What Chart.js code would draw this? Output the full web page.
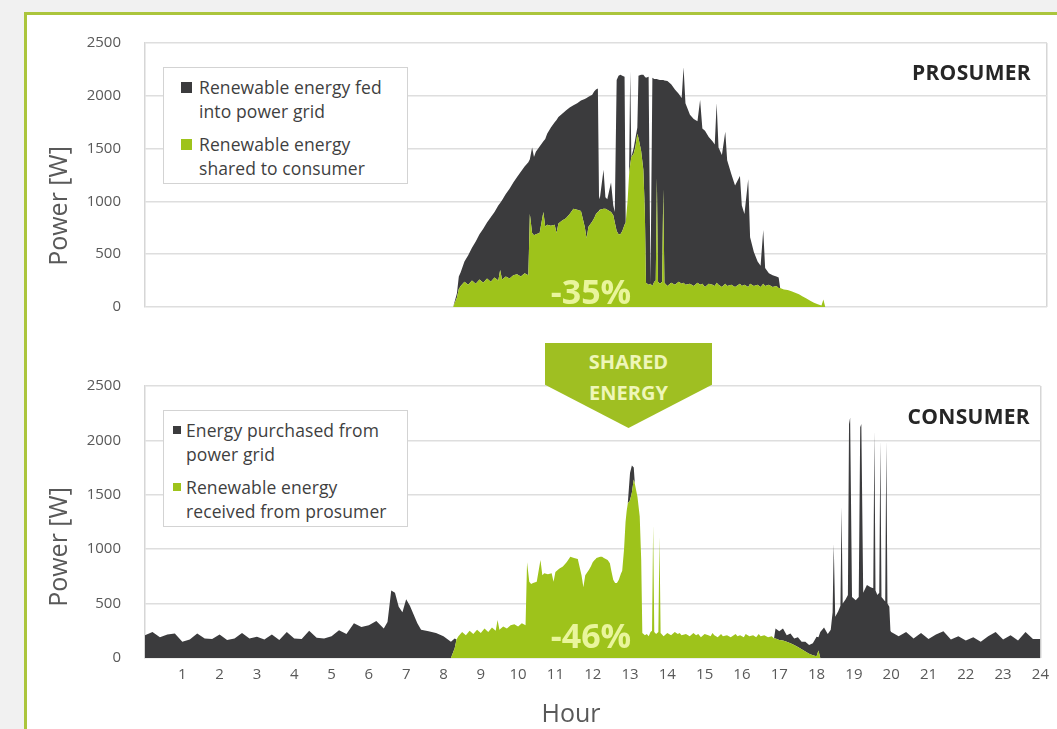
<!DOCTYPE html>
<html>
<head>
<meta charset="utf-8">
<title>Prosumer / consumer power profile</title>
<script src="https://cdn.jsdelivr.net/npm/chart.js@4.4.1/dist/chart.umd.min.js"></script>
<style>
  html, body { margin: 0; padding: 0; }
  body { position: relative; width: 1057px; height: 729px; overflow: hidden; background: #f1f1f1; font-family: "Open Sans", sans-serif; }
  #frame { position: absolute; left: 24px; top: 12px; width: 1100px; height: 800px; box-sizing: border-box; border: 3px solid #abc53c; background: #fff; }
  canvas { position: absolute; left: 0; }
  #prosumerChart { top: 0; }
  #consumerChart { top: 340px; }
  .axis-title { position: absolute; transform: translate(-50%, -50%); font-size: 25px; color: #595959; white-space: nowrap; }
  .ytitle { transform: translate(-50%, -50%) rotate(-90deg); }
  .legend { position: absolute; width: 245px; height: 117px; box-sizing: border-box; padding-top: 8px; border: 1px solid #d3d3d3; background: #fff; font-size: 17.5px; color: #3f3f3f; letter-spacing: 0.1px; }
  .legend .item { position: relative; line-height: 23.5px; white-space: pre-line; margin-bottom: 10px; }
  .legend .swatch { position: absolute; }
  .role { position: absolute; transform: translateY(-50%); font-size: 21px; font-weight: 700; color: #262626; letter-spacing: 0.3px; }
  .saving { position: absolute; transform: translate(-50%, -50%); font-size: 34px; font-weight: 700; color: #e9f59c; }
  #sharedArrow { position: absolute; left: 545px; top: 343px; width: 167px; height: 85px; box-sizing: border-box; padding-top: 3px;
    background: #9fbf22; clip-path: polygon(0 0, 100% 0, 100% 49%, 50% 100%, 0 49%);
    color: #eef6b8; font-size: 20px; font-weight: 700; line-height: 31px; text-align: center; }
</style>
</head>
<body>
<div id="frame"></div>
<canvas id="prosumerChart" width="1057" height="340"></canvas>
<canvas id="consumerChart" width="1057" height="389"></canvas>

<div class="axis-title ytitle" style="left:57px; top:206px">Power [W]</div>
<div class="axis-title ytitle" style="left:57px; top:547px">Power [W]</div>
<div class="axis-title" style="left:571px; top:712px">Hour</div>

<div class="legend" id="prosumerLegend" style="left:163px; top:67px"></div>
<div class="legend" id="consumerLegend" style="left:163px; top:410px"></div>

<div class="role" style="right:26px; top:72px">PROSUMER</div>
<div class="role" style="right:27px; top:416px">CONSUMER</div>
<div class="saving" style="left:591px; top:291px">-35%</div>
<div class="saving" style="left:591px; top:635px">-46%</div>
<div id="sharedArrow">SHARED<br>ENERGY</div>

<script>
  // Time of day (h), denser where the profile has spikes
  const hours = [
    0, 0.2, 0.4, 0.6, 0.8, 1.0, 1.2, 1.4, 1.6, 1.8,
    2.0, 2.2, 2.4, 2.6, 2.8, 3.0, 3.2, 3.4, 3.6, 3.8,
    4.0, 4.2, 4.4, 4.6, 4.8, 5.0, 5.2, 5.4, 5.6, 5.8,
    6.0, 6.2, 6.4, 6.5, 6.6, 6.7, 6.8, 6.9, 7.0, 7.1,
    7.2, 7.3, 7.4, 7.6, 7.8, 8.0, 8.2,
    8.3, 8.35, 8.4, 8.5, 8.6, 8.7, 8.8, 8.9, 9.0, 9.1,
    9.2, 9.3, 9.4, 9.45, 9.5, 9.6, 9.7, 9.8, 9.9, 10.0,
    10.1, 10.2,
    10.24, 10.3, 10.35, 10.4, 10.5, 10.6, 10.65, 10.7, 10.8, 10.9,
    10.95, 11.0, 11.1, 11.2, 11.3, 11.4, 11.5, 11.6, 11.7, 11.75,
    11.8, 11.9, 11.95, 12.0, 12.05,
    12.08, 12.1, 12.2, 12.25, 12.3, 12.4, 12.46, 12.5, 12.55, 12.6,
    12.65, 12.7, 12.76, 12.79, 12.84, 12.88, 12.91, 12.94, 13.0, 13.05,
    13.1,
    13.13, 13.2, 13.26, 13.3, 13.33, 13.4, 13.45, 13.5, 13.55, 13.59,
    13.62, 13.65, 13.7, 13.76, 13.79, 13.82, 13.9, 14.0,
    14.1, 14.2, 14.28, 14.33, 14.38, 14.5, 14.6, 14.7, 14.77, 14.83,
    14.9, 15.0, 15.1, 15.16, 15.21, 15.26, 15.35, 15.44, 15.49, 15.6,
    15.7, 15.83, 15.88, 15.95, 16.05, 16.1, 16.2, 16.3, 16.38, 16.45,
    16.5, 16.6, 16.7, 16.8, 16.86,
    16.9, 17.0, 17.1, 17.2, 17.3, 17.4, 17.5, 17.6, 17.7, 17.8,
    17.9, 18.0, 18.05, 18.1, 18.2,
    18.3, 18.38, 18.43, 18.46, 18.5, 18.58, 18.64, 18.67, 18.7, 18.78,
    18.84, 18.87, 18.9, 18.95, 19.05, 19.13, 19.17, 19.2, 19.25, 19.35,
    19.45, 19.52, 19.55, 19.58, 19.63, 19.68, 19.71, 19.74, 19.79, 19.84,
    19.87, 19.9, 19.95, 19.98,
    20.0, 20.2, 20.4, 20.6, 20.8, 21.0, 21.2, 21.4, 21.6, 21.8,
    22.0, 22.2, 22.4, 22.6, 22.8, 23.0, 23.2, 23.4, 23.6, 23.8,
    24.0
  ];

  // Prosumer: PV power fed into the grid (W)
  const fedToGrid = [
    0, 0, 0, 0, 0, 0, 0, 0, 0, 0,
    0, 0, 0, 0, 0, 0, 0, 0, 0, 0,
    0, 0, 0, 0, 0, 0, 0, 0, 0, 0,
    0, 0, 0, 0, 0, 0, 0, 0, 0, 0,
    0, 0, 0, 0, 0, 0, 0,
    40, 120, 130, 190, 280, 310, 400, 430, 510, 530,
    610, 620, 710, 635, 750, 780, 850, 880, 920, 990,
    1010, 1070,
    520, 810, 740, 780, 820, 670, 830, 860, 930, 970,
    1070, 1010, 1010, 1020, 1010, 980, 1010, 1045, 1210, 1330,
    1230, 1200, 1200, 1180, 1170,
    140, 100, 370, 110, 100, 280, 90, 100, 1430, 1500,
    1510, 1470, 1400, 0, 0, 0, 880, 0, 50, 80,
    60,
    590, 720, 900, 1280, 1940, 1970, 10, 1970, 1920, 1910,
    940, 1915, 1930, 1910, 1035, 1915, 1940, 1880,
    1850, 1780, 1760, 2040, 1720, 1600, 1580, 1530, 1750, 1470,
    1480, 1390, 1360, 1340, 1700, 1300, 1250, 1440, 1190, 1050,
    960, 1020, 760, 670, 1020, 440, 320, 220, 200, 510,
    170, 110, 110, 90, 100,
    0, 0, 0, 0, 0, 0, 0, 0, 0, 0,
    0, 0, 0, 0, 0,
    0, 0, 0, 0, 0, 0, 0, 0, 0, 0,
    0, 0, 0, 0, 0, 0, 0, 0, 0, 0,
    0, 0, 0, 0, 0, 0, 0, 0, 0, 0,
    0, 0, 0, 0,
    0, 0, 0, 0, 0, 0, 0, 0, 0, 0,
    0, 0, 0, 0, 0, 0, 0, 0, 0, 0,
    0
  ];

  // Renewable power shared prosumer -> consumer (W), same curve in both panels
  const sharedEnergy = [
    0, 0, 0, 0, 0, 0, 0, 0, 0, 0,
    0, 0, 0, 0, 0, 0, 0, 0, 0, 0,
    0, 0, 0, 0, 0, 0, 0, 0, 0, 0,
    0, 0, 0, 0, 0, 0, 0, 0, 0, 0,
    0, 0, 0, 0, 0, 0, 0,
    90, 170, 200, 240, 210, 250, 220, 260, 230, 270,
    240, 280, 250, 350, 260, 290, 270, 300, 310, 290,
    320, 300,
    880, 700, 680, 690, 700, 900, 760, 780, 770, 780,
    700, 790, 820, 840, 880, 930, 920, 910, 760, 650,
    760, 810, 840, 880, 900,
    910, 920, 930, 930, 920, 900, 870, 800, 720, 690,
    690, 720, 780, 800, 1000, 1250, 1350, 1420, 1450, 1520,
    1640,
    1600, 1480, 1300, 900, 230, 210, 220, 200, 240, 250,
    1220, 240, 220, 240, 1115, 230, 200, 230,
    210, 240, 220, 230, 210, 220, 200, 230, 210, 220,
    190, 220, 210, 200, 230, 210, 190, 220, 200, 210,
    190, 220, 200, 210, 190, 220, 200, 210, 190, 220,
    200, 210, 190, 200, 180,
    180, 165, 160, 150, 135, 120, 100, 80, 60, 40,
    25, 15, 70, 0, 0,
    0, 0, 0, 0, 0, 0, 0, 0, 0, 0,
    0, 0, 0, 0, 0, 0, 0, 0, 0, 0,
    0, 0, 0, 0, 0, 0, 0, 0, 0, 0,
    0, 0, 0, 0,
    0, 0, 0, 0, 0, 0, 0, 0, 0, 0,
    0, 0, 0, 0, 0, 0, 0, 0, 0, 0,
    0
  ];

  // Consumer: power bought from the grid (W)
  const purchasedFromGrid = [
    210, 240, 190, 215, 225, 150, 170, 225, 180, 175,
    215, 165, 180, 230, 180, 195, 170, 215, 165, 240,
    180, 175, 250, 185, 180, 200, 255, 220, 320, 285,
    300, 340, 270, 330, 620, 600, 470, 420, 540, 480,
    400, 320, 260, 245, 230, 200, 150,
    90, 0, 0, 0, 0, 0, 0, 0, 0, 0,
    0, 0, 0, 0, 0, 0, 0, 0, 0, 0,
    0, 0,
    0, 0, 0, 0, 0, 0, 0, 0, 0, 0,
    0, 0, 0, 0, 0, 0, 0, 0, 0, 0,
    0, 0, 0, 0, 0,
    0, 0, 0, 0, 0, 0, 0, 0, 0, 0,
    0, 0, 0, 0, 0, 0, 0, 0, 250, 250,
    110,
    0, 0, 0, 0, 0, 0, 0, 0, 0, 0,
    0, 0, 0, 0, 0, 0, 0, 0,
    0, 0, 0, 0, 0, 0, 0, 0, 0, 0,
    0, 0, 0, 0, 0, 0, 0, 0, 0, 0,
    0, 0, 0, 0, 0, 0, 0, 0, 0, 0,
    0, 0, 0, 0, 0,
    90, 80, 110, 60, 90, 60, 90, 70, 90, 80,
    110, 180, 120, 240, 280,
    220, 260, 420, 1050, 380, 430, 480, 1390, 500, 540,
    580, 2150, 2210, 560, 530, 560, 2120, 2150, 600, 670,
    650, 640, 2090, 620, 580, 600, 2000, 560, 540, 520,
    2000, 500, 470, 250,
    240, 200, 240, 180, 230, 175, 215, 245, 170, 200,
    160, 190, 150, 200, 240, 170, 210, 160, 240, 175,
    175
  ];

  // Axis ticks
  const hourTicks = [1, 2, 3, 4, 5, 6, 7, 8, 9, 10, 11, 12, 13, 14, 15, 16, 17, 18, 19, 20, 21, 22, 23, 24];
  const powerTicks = [0, 500, 1000, 1500, 2000, 2500];

  // Series names (dark first, green second)
  const prosumerLabels = ['Renewable energy fed\ninto power grid', 'Renewable energy\nshared to consumer'];
  const consumerLabels = ['Energy purchased from\npower grid', 'Renewable energy\nreceived from prosumer'];

  const DARK = '#3b3b3d';
  const GREEN = '#9ec31b';
  const TICK_FONT = { family: 'Open Sans', size: 15 };

  function points(values) {
    return hours.map((h, i) => ({ x: h, y: values[i] }));
  }

  // Stacked area chart: green at the bottom, dark stacked on top
  function areaChart(canvasId, labels, darkValues, greenValues, showHours, padding, xHeight) {
    const canvas = document.getElementById(canvasId);
    return new Chart(canvas, {
      type: 'line',
      data: {
        datasets: [
          { label: labels[1], data: points(greenValues), backgroundColor: GREEN, borderColor: GREEN,
            borderWidth: 0, pointRadius: 0, tension: 0, fill: 'origin' },
          { label: labels[0], data: points(darkValues), backgroundColor: DARK, borderColor: DARK,
            borderWidth: 0, pointRadius: 0, tension: 0, fill: '-1' }
        ]
      },
      options: {
        responsive: false,
        animation: false,
        devicePixelRatio: 1,
        layout: { padding },
        plugins: { legend: { display: false }, tooltip: { enabled: false } },
        scales: {
          x: {
            type: 'linear', min: 0, max: 24,
            afterBuildTicks: s => { s.ticks = hourTicks.map(v => ({ value: v })); },
            afterFit: s => { s.height = xHeight; },
            ticks: { display: showHours, padding: 8, color: '#595959', font: TICK_FONT, maxRotation: 0,
                     callback: v => String(v) },
            grid: { drawTicks: false, lineWidth: 1.5,
                    color: ctx => (ctx.tick && ctx.tick.value === 24) ? '#d6d6d6' : 'rgba(0,0,0,0)' },
            border: { display: false }
          },
          y: {
            stacked: true, min: 0, max: 2500,
            afterBuildTicks: s => { s.ticks = powerTicks.map(v => ({ value: v })); },
            afterFit: s => { s.width = 145; },
            ticks: { padding: 24, color: '#595959', font: TICK_FONT, callback: v => String(v) },
            grid: { drawTicks: false, color: '#dedede', lineWidth: 1.5 },
            border: { display: true, color: '#d6d6d6', width: 1.5 }
          }
        }
      }
    });
  }

  // HTML legend with two-line labels, built from the datasets
  function buildLegend(boxId, chart, swatchLeft, swatchSize, textLeft) {
    const box = document.getElementById(boxId);
    chart.data.datasets.slice().reverse().forEach(ds => {
      const item = document.createElement('div');
      item.className = 'item';
      item.style.paddingLeft = textLeft + 'px';
      const sw = document.createElement('span');
      sw.className = 'swatch';
      sw.style.cssText = `left:${swatchLeft}px; top:${12 - swatchSize / 2 - 1}px; width:${swatchSize}px; height:${swatchSize}px; background:${ds.backgroundColor}`;
      item.appendChild(sw);
      item.appendChild(document.createTextNode(ds.label));
      box.appendChild(item);
    });
  }

  const prosumerChart = areaChart('prosumerChart', prosumerLabels, fedToGrid, sharedEnergy, false,
    { top: 43, right: 10, bottom: 18, left: 0 }, 0);
  const consumerChart = areaChart('consumerChart', consumerLabels, purchasedFromGrid, sharedEnergy, true,
    { top: 46, right: 10, bottom: 5, left: 0 }, 66);

  buildLegend('prosumerLegend', prosumerChart, 17, 11, 35);
  buildLegend('consumerLegend', consumerChart, 9, 8, 22);
</script>
</body>
</html>
